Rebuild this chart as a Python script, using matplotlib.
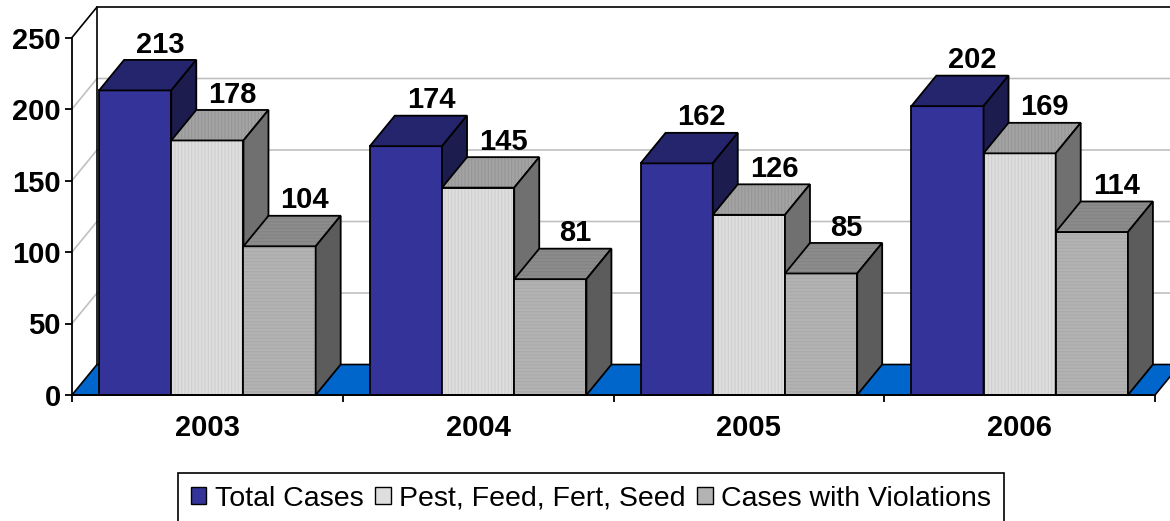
import numpy as np
import matplotlib.pyplot as plt
from matplotlib.patches import Polygon, Patch

plt.rcParams['font.family'] = ['Liberation Sans', 'DejaVu Sans']
plt.rcParams['hatch.linewidth'] = 0.8

years = ['2003', '2004', '2005', '2006']
series = ['Total Cases', 'Pest, Feed, Fert, Seed', 'Cases with Violations']
total_cases = [213, 174, 162, 202]
pest_feed = [178, 145, 126, 169]
violations = [104, 81, 85, 114]
yticks = [0, 50, 100, 150, 200, 250]

values = [total_cases, pest_feed, violations]
# front, top, side colours per series
front_c = ['#333399', '#dedede', '#b3b3b3']
top_c = ['#25256e', '#a3a3a3', '#8c8c8c']
side_c = ['#1c1c4f', '#707070', '#5c5c5c']
hatches = [None, '|||||', '-----']
hatch_c = [None, '#cfcfcf', '#a9a9a9']

W, H = 1170, 521
fig = plt.figure(figsize=(W / 100, H / 100), dpi=100)
ax = fig.add_axes([72 / W, (H - 395) / H, 1083 / W, 357.5 / H])
ax.set_xlim(0, len(years))
ax.set_ylim(0, 250)

# depth offset in data units
px_x = len(years) / 1083
px_y = 250 / 357.5
dx = 25 * px_x
dy = 30.5 * px_y

# walls and gridlines
xr = len(years) + dx
for v in yticks[1:]:
    col = 'black' if v == 250 else '#c0c0c0'
    ax.plot([0, dx, xr], [v, v + dy, v + dy], color=col, lw=1.2, clip_on=False, zorder=1)
ax.plot([dx, dx], [dy, 250 + dy], color='black', lw=1.2, clip_on=False, zorder=1)

floor = Polygon([(0, 0), (len(years), 0), (xr, dy), (dx, dy)], closed=True,
                facecolor='#0066cc', edgecolor='black', lw=1.2, clip_on=False, zorder=2)
ax.add_patch(floor)

bw = 0.8 / 3
z = 3
for i in range(len(years)):
    for s in range(3):
        v = values[s][i]
        x0 = i + 0.1 + s * bw
        x1 = x0 + bw
        front = [(x0, 0), (x1, 0), (x1, v), (x0, v)]
        top = [(x0, v), (x1, v), (x1 + dx, v + dy), (x0 + dx, v + dy)]
        side = [(x1, 0), (x1 + dx, dy), (x1 + dx, v + dy), (x1, v)]
        for pts, fc in [(front, front_c[s]), (top, top_c[s]), (side, side_c[s])]:
            if hatches[s] is not None and pts is not side:
                ax.add_patch(Polygon(pts, closed=True, facecolor=fc, edgecolor=hatch_c[s] if pts is front else '#969696' if s == 1 else '#828282',
                                     hatch=hatches[s], lw=0, clip_on=False, zorder=z))
                ax.add_patch(Polygon(pts, closed=True, fill=False, edgecolor='black',
                                     lw=1.3, clip_on=False, zorder=z, joinstyle='miter'))
            else:
                ax.add_patch(Polygon(pts, closed=True, facecolor=fc, edgecolor='black',
                                     lw=1.3, clip_on=False, zorder=z, joinstyle='miter'))
        z += 1
        ax.annotate(str(v), ((x0 + x1) / 2 + dx, v + dy), xytext=(0, 1), textcoords='offset points',
                    ha='center', va='bottom', fontsize=21, fontweight='bold', zorder=50,
                    annotation_clip=False)

for sp in ['top', 'right']:
    ax.spines[sp].set_visible(False)
for sp in ['left', 'bottom']:
    ax.spines[sp].set_linewidth(1.3)
    ax.spines[sp].set_zorder(40)

ax.set_yticks(yticks)
ax.set_yticklabels([str(t) for t in yticks], fontsize=21, fontweight='bold')
ax.tick_params(axis='y', length=5, width=1.3, pad=3)
ax.set_xticks(range(len(years) + 1))
ax.set_xticklabels([])
ax.tick_params(axis='x', which='major', length=5, width=1.3, direction='out')
ax.set_xticks(np.arange(len(years)) + 0.5, minor=True)
ax.set_xticklabels(years, minor=True, fontsize=21, fontweight='bold')
ax.tick_params(axis='x', which='minor', length=0, pad=14)
ax.patch.set_visible(False)

handles = [Patch(facecolor=front_c[s], edgecolor='black', lw=1.0) for s in range(3)]
leg = fig.legend(handles, series, loc='upper center', bbox_to_anchor=(591 / W, 1 - 473 / H),
                 bbox_transform=fig.transFigure, ncol=3, fontsize=20.5, frameon=True, fancybox=False,
                 edgecolor='black', framealpha=1, borderaxespad=0, handlelength=0.55, handleheight=0.55,
                 handletextpad=0.3, columnspacing=0.4, borderpad=0.45)
leg.get_frame().set_linewidth(1.2)

fig.savefig('out.png', dpi=100)
